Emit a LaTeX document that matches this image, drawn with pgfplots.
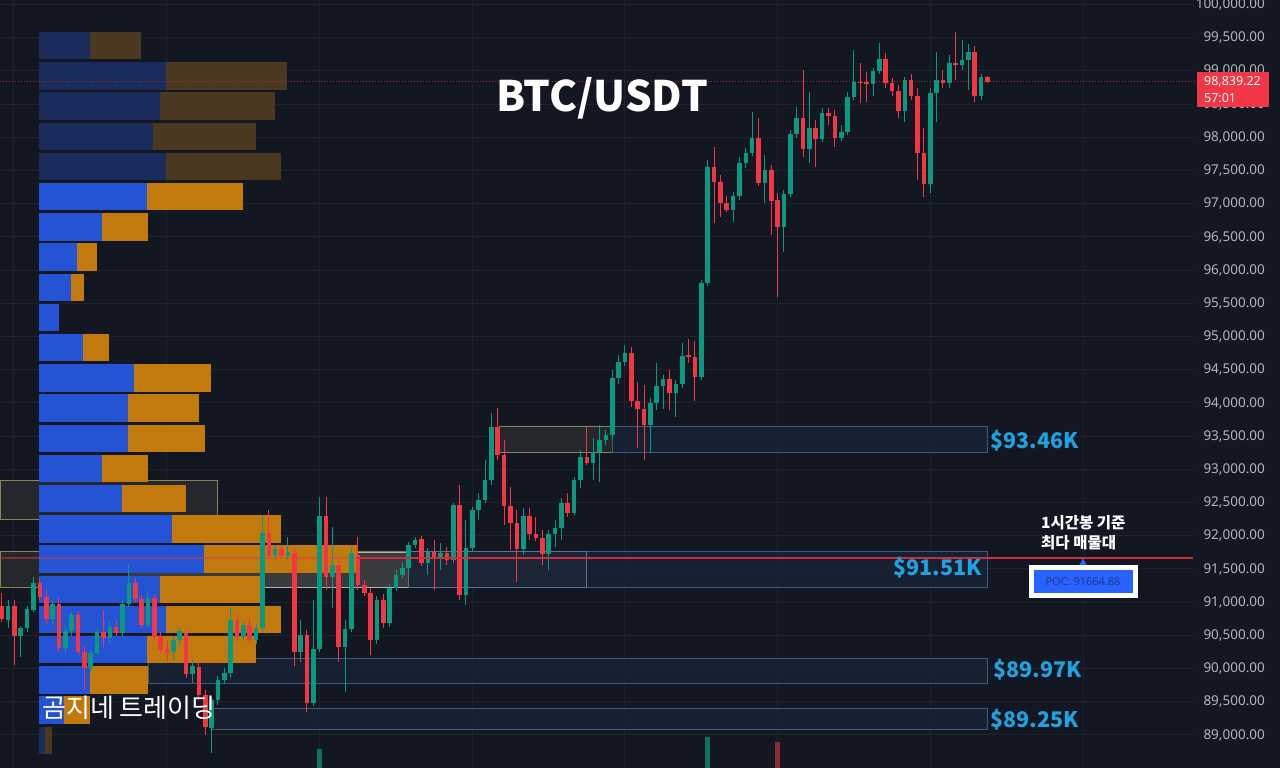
\documentclass[border=0pt]{standalone}
\usepackage{fontspec}
\setmainfont{Noto Sans}
\newfontfamily\kr{Noto Sans CJK KR}
\usepackage{pgfplots}
\usepackage{pgfplotstable}
\pgfplotsset{compat=1.18}
\usetikzlibrary{shapes.geometric}

\definecolor{bg}{HTML}{131722}
\definecolor{gridc}{HTML}{1E222D}
\definecolor{tickc}{HTML}{B2B5BE}
\definecolor{cgreen}{HTML}{089981}
\definecolor{cred}{HTML}{F23645}
\definecolor{pblue}{HTML}{2553D5}
\definecolor{porange}{HTML}{C27A0E}
\definecolor{dblue}{HTML}{1B2B5C}
\definecolor{dorange}{HTML}{4B3820}
\definecolor{zyel}{HTML}{8C8450}
\definecolor{zgrey}{HTML}{282A2E}
\definecolor{zblue}{HTML}{3D5A80}
\definecolor{zbfill}{HTML}{182234}
\definecolor{zbfill2}{HTML}{1D2638}
\definecolor{cyanl}{HTML}{1FA3DF}
\definecolor{pocblue}{HTML}{2962FF}
\definecolor{poctext}{HTML}{233A8C}
\definecolor{vgreen}{HTML}{12705F}
\definecolor{vred}{HTML}{8E2A37}

\pgfplotsset{
  colormap={updown}{color=(cred) color=(cgreen)},
  colormap={pbluemap}{color=(dblue) color=(pblue)},
  colormap={porangemap}{color=(dorange) color=(porange)},
  colormap={volmap}{color=(vred) color=(vgreen)},
  zone/.style 2 args={draw=#1, line width=0.9pt, fill=#2, fill opacity=0.85, mark=none},
}

% candles: index, open, high, low, close, up (1) or down (0)
\pgfplotstableread{
i o h l c g
0 90943 91139 90702 90746 0
1 90732 91033 90612 90943 1
2 90943 91033 90054 90491 0
3 90491 90642 90175 90612 1
4 90612 90943 90551 90897 1
5 90882 91380 90852 91289 1
6 91289 91365 91033 91079 0
7 91079 91184 90657 90746 0
8 90746 91033 90657 90973 1
9 90973 91064 90250 90311 0
10 90311 90657 90235 90566 1
11 90566 90852 90491 90807 1
12 90807 90867 90205 90250 0
13 90250 90341 89678 90009 0
14 90009 90280 89949 90235 1
15 90235 90612 90190 90551 1
16 90551 90882 90326 90461 0
17 90461 90702 90386 90627 1
18 90627 90732 90491 90536 0
19 90536 91033 90476 90973 1
20 90973 91560 90928 91289 1
21 91289 91365 91003 91048 0
22 91048 91109 90612 90657 0
23 90657 91154 90612 91064 1
24 91064 91124 90431 90476 0
25 90476 90551 90235 90280 0
26 90295 90431 90099 90235 0
27 90250 90491 90129 90431 1
28 90431 90612 90356 90566 1
29 90536 90581 89859 89919 0
30 89919 90129 89783 90039 1
31 90024 90099 89527 89603 0
32 89603 89678 89000 89121 0
33 89106 89558 88729 89527 1
34 89527 89889 89452 89828 1
35 89828 90009 89768 89934 1
36 89934 90913 89859 90732 1
37 90732 90822 90401 90476 0
38 90476 90702 90416 90657 1
39 90657 90762 90386 90431 0
40 90431 90672 90371 90612 1
41 90612 92313 90566 92042 1
42 92042 92388 91635 91696 0
43 91711 91847 91635 91801 1
44 91801 91862 91650 91696 0
45 91696 91982 91635 91756 1
46 91741 91817 90039 90250 0
47 90250 90732 90099 90506 1
48 90506 90581 89346 89482 0
49 89482 91033 89437 90295 1
50 90295 92585 90250 92298 1
51 92298 92585 91184 91380 0
52 91380 92133 90913 91560 1
53 91560 91666 90099 90326 0
54 90326 90732 89648 90596 1
55 90596 91817 90551 91741 1
56 91711 91982 91184 91259 0
57 91259 91334 91094 91139 0
58 91139 91214 90205 90431 0
59 90431 91094 90371 91033 1
60 91033 91124 90612 90687 0
61 90687 91274 90627 91214 1
62 91214 91485 91169 91410 1
63 91410 91605 91365 91515 1
64 91515 91907 91470 91862 1
65 91862 91982 91817 91937 1
66 91951 91997 91545 91590 0
67 91590 91817 91410 91756 1
68 91756 91937 91184 91666 0
69 91681 91892 91485 91741 1
70 91741 91832 91560 91635 0
71 91635 92494 91590 92464 1
72 92464 92765 91033 91109 0
73 91109 92238 90958 91817 1
74 91817 92434 91756 92388 1
75 92388 92645 92238 92539 1
76 92539 93141 92494 92840 1
77 92840 93849 92765 93639 1
78 93639 93925 93141 93217 0
79 93217 93443 92163 92449 0
80 92449 92735 91786 92193 0
81 92193 92388 91304 91801 0
82 91801 92419 91711 92298 1
83 92298 92419 91937 92027 0
84 92027 92283 91922 91967 0
85 91967 92087 91560 91726 0
86 91726 92087 91485 92027 1
87 92027 92238 91832 92118 1
88 92118 92570 91937 92494 1
89 92494 92645 92283 92343 0
90 92343 92886 92313 92840 1
91 92840 93292 92720 93187 1
92 93187 93639 93066 93096 0
93 93096 93473 92840 93262 1
94 93262 93669 92810 93443 1
95 93443 93593 93368 93518 1
96 93518 94497 93443 94377 1
97 94377 94723 94286 94617 1
98 94617 94874 94557 94753 1
99 94753 94844 93940 94030 0
100 94030 94316 93323 93909 0
101 93909 94271 93141 93669 0
102 93669 94076 93247 94000 1
103 94000 94602 93894 94256 1
104 94256 94422 93909 94361 1
105 94361 94497 93894 94151 0
106 94151 94346 93789 94286 1
107 94286 94904 94226 94708 1
108 94723 94963 94602 94693 0
109 94693 94934 94030 94392 0
110 94392 95852 94346 95807 1
111 95807 97659 95762 97554 1
112 97554 97856 96711 97328 0
113 97328 97434 96801 97012 0
114 97012 97118 96876 96906 0
115 96906 97178 96726 97118 1
116 97118 97705 97057 97614 1
117 97614 97841 97539 97765 1
118 97765 98382 97720 97991 1
119 97991 98292 97268 97313 0
120 97313 97735 97012 97509 1
121 97509 97584 96530 97042 0
122 97057 97163 95597 96651 0
123 96651 97208 96274 97148 1
124 97148 98111 97103 98051 1
125 98051 98458 97991 98292 1
126 98292 99015 97705 97825 0
127 97825 98684 97614 98142 1
128 98142 98262 97554 97975 0
129 97975 98443 97931 98367 1
130 98367 98443 98187 98322 0
131 98322 98412 97856 97991 0
132 97991 98187 97946 98081 1
133 98081 98684 98036 98609 1
134 98609 99316 98563 98834 1
135 98834 99120 98518 98819 0
136 98834 98985 98533 98804 0
137 98804 99045 98624 99000 1
138 99000 99422 98955 99180 1
139 99180 99271 98744 98819 0
140 98819 98895 98624 98699 0
141 98699 98789 98292 98397 0
142 98397 98910 98232 98864 1
143 98864 98955 98563 98624 0
144 98624 98744 97358 97765 0
145 97765 98142 97103 97298 0
146 97298 98744 97163 98669 1
147 98669 99286 98232 98864 1
148 98864 99015 98744 98819 0
149 98819 99241 98744 99120 1
150 99120 99587 98864 99090 0
151 99090 99467 99015 99165 1
152 99165 99407 98714 99286 1
153 99286 99377 98533 98624 0
154 98624 98955 98563 98910 1
155 98910 98925 98819 98839.22 0
}\candles

% volume profile rows: centre price, end of buy part, end of sell part (px), bright?
\pgfplotstableread{
y b o v
99380 90 141 0
98925 166 287 0
98470 160 275 0
98016 153 256 0
97561 166 281 0
97106 147 243 1
96651 102 148 1
96196 77 97 1
95742 71 84 1
95287 59 59 1
94832 83 109 1
94377 134 211 1
93922 128 199 1
93468 128 205 1
93013 102 148 1
92558 122 186 1
92103 172 281 1
91648 204 357 1
91193 160 262 1
90739 166 281 1
90284 147 256 1
89829 90 148 1
89374 64 90 1
88919 45 52 0
}\profile

\pgfplotstableread{
i v g
50 88789 1
111 88970 1
122 88895 0
}\volume

\begin{document}
\begin{tikzpicture}
\useasboundingbox (0,0) rectangle (1280pt,768pt);
\fill[bg] (0,0) rectangle (1280pt,768pt);
\begin{axis}[
  at={(0,0)}, anchor=south west,
  width=1193pt, height=768pt, scale only axis,
  xmin=0, xmax=1193, ymin=88503, ymax=100069,
  clip=false,
  axis line style={draw=none},
  major tick length=0pt,
  xtick=\empty,
  ytick={88500,89000,...,100000},
  scaled y ticks=false,
  yticklabel pos=right,
  yticklabel style={anchor=east, xshift=72pt, inner sep=0pt, text=tickc,
    font=\fontsize{13.5}{15}\selectfont,
    /pgf/number format/.cd, fixed, fixed zerofill, precision=2, 1000 sep={,},
    assume math mode=true},
  ymajorgrids,
  grid style={draw=gridc, line width=1pt},
  point meta min=0, point meta max=1,
]
% vertical grid lines
\pgfplotsinvokeforeach{13,166,319,472,624,777,930,1083}{
  \addplot[draw=gridc, line width=1pt] coordinates {(#1,88503) (#1,100069)};
}
% zones
\addplot[zone={zyel}{zgrey}] coordinates {(0,92840) (217,92840) (217,92253) (0,92253) (0,92840)};
\addplot[zone={zyel}{zgrey}] coordinates {(0,91771) (408,91771) (408,91229) (0,91229) (0,91771)};
\addplot[zone={gray!60}{gray!25!zgrey}] coordinates {(128,91756) (408,91756) (408,91229) (128,91229) (128,91756)};
\addplot[zone={zblue}{zbfill}] coordinates {(408,91771) (987,91771) (987,91229) (408,91229) (408,91771)};
\addplot[zone={zblue!85!white}{zbfill2}] coordinates {(408,91771) (586,91771) (586,91229) (408,91229) (408,91771)};
\addplot[zone={zyel}{zgrey}] coordinates {(499,93654) (612,93654) (612,93262) (499,93262) (499,93654)};
\addplot[zone={zblue}{zbfill}] coordinates {(612,93654) (987,93654) (987,93262) (612,93262) (612,93654)};
\addplot[zone={zblue}{zbfill}] coordinates {(148,90160) (987,90160) (987,89783) (148,89783) (148,90160)};
\addplot[zone={zblue}{zbfill}] coordinates {(212,89407) (987,89407) (987,89090) (212,89090) (212,89407)};

% volume profile (buy part, then sell part)
\addplot[-, line width=27.5pt, colormap name=pbluemap, point meta=explicit,
  quiver={u=\thisrow{b}-39, v=0, colored=mapped color}]
  table[x expr=39, y=y, meta=v] {\profile};
\addplot[-, line width=27.5pt, colormap name=porangemap, point meta=explicit,
  quiver={u=\thisrow{o}-\thisrow{b}, v=0, colored=mapped color}]
  table[x=b, y=y, meta=v] {\profile};

% volume bars
\addplot[-, line width=5.5pt, colormap name=volmap, point meta=explicit,
  quiver={u=0, v=\thisrow{v}-88503, colored=mapped color}]
  table[x expr=1.7+6.36*\thisrow{i}, y expr=88503, meta=g] {\volume};

% POC line over the profile
\addplot[draw=cred, opacity=0.45, line width=1.3pt] coordinates {(0,91664.88) (357,91664.88)};

% candles: wicks then bodies
\addplot[-, line width=1pt, colormap name=updown, point meta=explicit,
  quiver={u=0, v=\thisrow{h}-\thisrow{l}, colored=mapped color}]
  table[x expr=1.7+6.36*\thisrow{i}, y=l, meta=g] {\candles};
\addplot[-, line width=4.6pt, colormap name=updown, point meta=explicit,
  quiver={u=0, v={max(abs(\thisrow{c}-\thisrow{o}),12)}, colored=mapped color}]
  table[x expr=1.7+6.36*\thisrow{i}, y expr={min(\thisrow{o},\thisrow{c})}, meta=g] {\candles};

% POC and last price lines
\addplot[draw=cred!85!black, line width=1.3pt] coordinates {(357,91664.88) (1193,91664.88)};
\addplot[draw=cred, opacity=0.6, line width=0.7pt, dash pattern=on 1pt off 2pt] coordinates {(0,98839.22) (1196,98839.22)};

% texts
\node[text=white, font=\kr\bfseries\fontsize{42}{46}\selectfont] at (axis cs:602,98593) {BTC/USDT};
\node[anchor=west, inner sep=0pt, text=cyanl, font=\kr\bfseries\fontsize{21.5}{24}\selectfont] at (axis cs:990,93428) {\$93.46K};
\node[anchor=west, inner sep=0pt, text=cyanl, font=\kr\bfseries\fontsize{21.5}{24}\selectfont] at (axis cs:893,91515) {\$91.51K};
\node[anchor=west, inner sep=0pt, text=cyanl, font=\kr\bfseries\fontsize{21.5}{24}\selectfont] at (axis cs:993,89979) {\$89.97K};
\node[anchor=west, inner sep=0pt, text=cyanl, font=\kr\bfseries\fontsize{21.5}{24}\selectfont] at (axis cs:990,89226) {\$89.25K};
\node[anchor=west, inner sep=0pt, text=white, font=\kr\bfseries\fontsize{15.5}{18}\selectfont] at (axis cs:1041,92193) {1시간봉 기준};
\node[anchor=west, inner sep=0pt, text=white, font=\kr\bfseries\fontsize{15.5}{18}\selectfont] at (axis cs:1041,91892) {최다 매물대};
\node[anchor=west, inner sep=0pt, text=white, font=\kr\fontsize{26}{29}\selectfont] at (axis cs:42,89407) {곰지네 트레이딩};
\node[regular polygon, regular polygon sides=3, fill=pocblue, minimum size=9pt, inner sep=0pt] at (axis cs:1083,91590) {};
\node[draw=white, line width=5pt, fill=pocblue, minimum width=104pt, minimum height=28pt, inner sep=0pt,
  text=poctext, font=\fontsize{11}{13}\selectfont] at (axis cs:1083,91312) {POC: 91664.88};
\coordinate (pl) at (axis cs:1232.5,98721);
\end{axis}
\node[fill=cred, minimum width=72pt, minimum height=35pt, inner sep=0pt, align=left,
  text=white, font=\fontsize{12.5}{16.5}\selectfont] at (pl) {98,839.22\\57:01};
\end{tikzpicture}
\end{document}
